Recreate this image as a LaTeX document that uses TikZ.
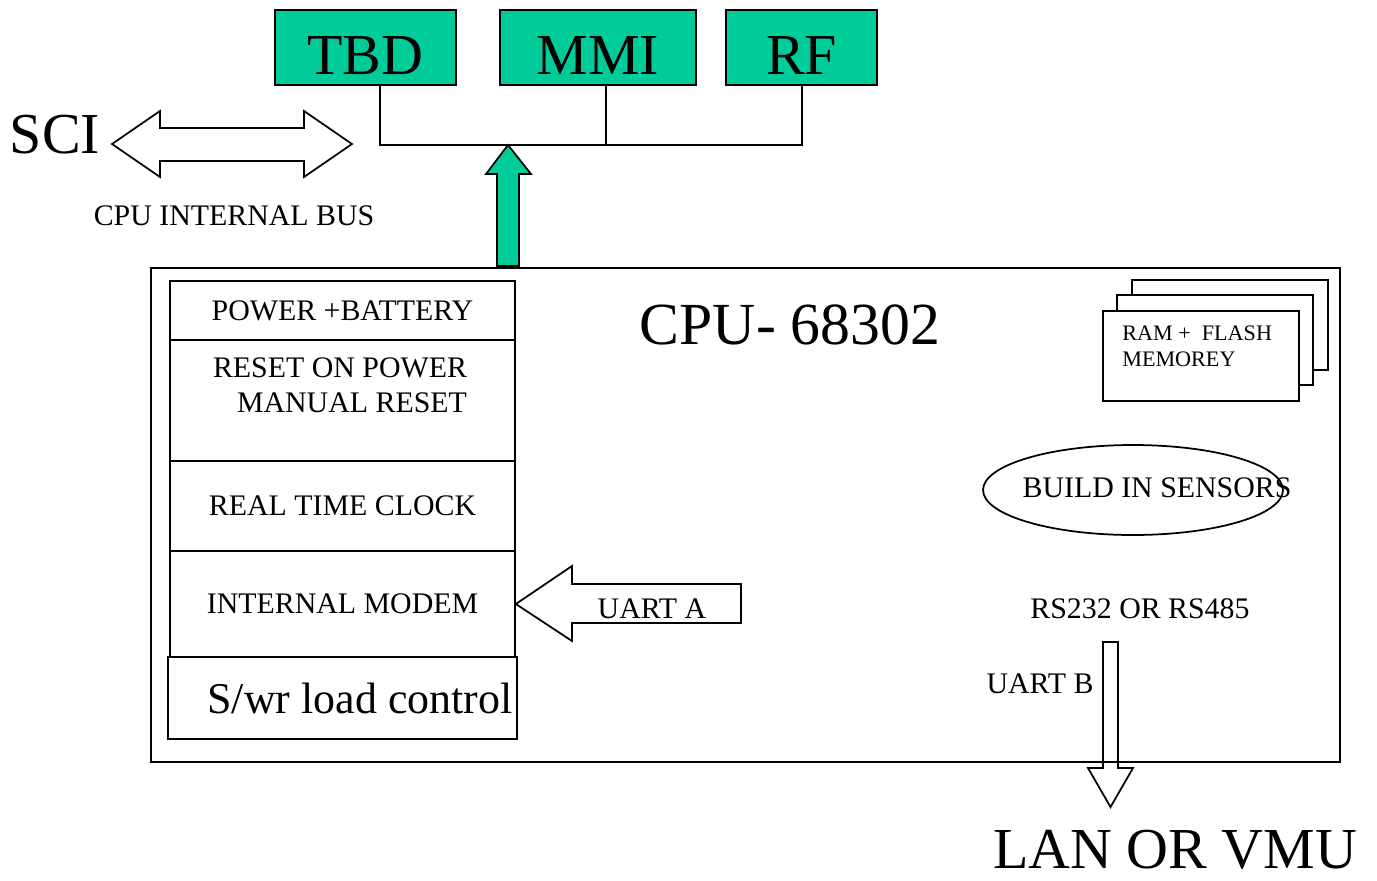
\documentclass[tikz,border=0pt]{standalone}
\usepackage{fontspec}
\setmainfont{Liberation Serif}
\usetikzlibrary{shapes.geometric}
\definecolor{boxgreen}{RGB}{0,204,153}
\begin{document}
\begin{tikzpicture}[x=0.02cm, y=-0.02cm,
  unit/.style={draw, fill=boxgreen, line width=1pt, minimum height=1.5cm, inner sep=0pt, text height=31pt, text depth=0pt, font=\fontsize{33}{36}\selectfont},
  row/.style={draw, line width=1pt, minimum width=6.9cm, inner sep=0pt, font=\fontsize{17}{20}\selectfont},
  small/.style={inner sep=0pt, font=\fontsize{17}{20}\selectfont},
  big/.style={inner sep=0pt, font=\fontsize{33}{36}\selectfont},
  blockarrow/.style={draw, line width=1pt, line join=miter}
]
\useasboundingbox (0,0) rectangle (1377,880);

% top units and bus
\node[unit, minimum width=3.62cm] (tbd) at (365.5,47.5) {TBD};
\node[unit, minimum width=3.92cm] (mmi) at (598,47.5) {MMI};
\node[unit, minimum width=3.02cm] (rf) at (801.5,47.5) {RF};
\coordinate (busl) at (380,145);
\coordinate (busm) at (606,145);
\coordinate (busr) at (802,145);
\draw[line width=1pt] (tbd.south -| busl) -- (busl) -- (busr) -- (rf.south -| busr);
\draw[line width=1pt] (mmi.south -| busm) -- (busm);
\draw[blockarrow, fill=boxgreen] (497,266) -- (497,174) -- (486,174) -- (508,145) -- (531,174) -- (519,174) -- (519,266) -- cycle;

% SCI
\node[big] (sci) at (55,135) {SCI};
\draw[blockarrow] (112,144) -- (160,111) -- (160,128) -- (304,128) -- (304,111) -- (352,144) -- (304,177) -- (304,161) -- (160,161) -- (160,177) -- cycle;
\node[small] (busname) at (234,216) {CPU INTERNAL BUS};

% CPU block
\node[draw, line width=1pt, minimum width=23.78cm, minimum height=9.88cm] (cpu) at (745.5,515) {};
\node[inner sep=0pt, font=\fontsize{34}{38}\selectfont] (cputitle) at (790,325) {CPU- 68302};

\node[row, minimum height=1.18cm] (power) at (342.5,310.5) {POWER +BATTERY};
\node[row, minimum height=2.42cm] (reset) at (342.5,400.5) {};
\node[small, align=left] (resettxt) at (340,385) {RESET ON POWER\\\hspace{0.48cm}MANUAL RESET};
\node[row, minimum height=1.8cm] (clock) at (342.5,506) {REAL TIME CLOCK};
\node[row, minimum height=2.12cm] (modem) at (342.5,604) {INTERNAL MODEM};
\node[draw, line width=1pt, minimum width=6.98cm, minimum height=1.64cm] (swr) at (342.5,698) {};
\node[inner sep=0pt, font=\fontsize{25}{30}\selectfont] (swrtxt) at (360,698) {S/wr load control};

% memory stack
\draw[line width=1pt, fill=white] (1132,280) rectangle (1328,370);
\draw[line width=1pt, fill=white] (1117,295) rectangle (1313,385);
\node[draw, line width=1pt, fill=white, minimum width=3.92cm, minimum height=1.8cm] (ram) at (1201,356) {};
\node[align=left, anchor=west, inner sep=0pt, font=\fontsize{12.6}{15}\selectfont] (ramtxt) at (1122,346) {RAM +~ FLASH\\MEMOREY};

\node[draw, ellipse, line width=1pt, minimum width=6cm, minimum height=1.8cm, inner sep=0pt] (sensors) at (1133,490) {};
\node[small] (sensortxt) at (1157,488) {BUILD IN SENSORS};
\node[small] (rs) at (1140,609) {RS232 OR RS485};

% UART arrows
\draw[blockarrow] (modem.east) -- (572,566) -- (572,584) -- (741,584) -- (741,623) -- (572,623) -- (572,641) -- cycle;
\node[small] (uarta) at (652,609) {UART A};
\draw[blockarrow] (1103,642) -- (1118,642) -- (1118,768) -- (1133,768) -- (1110.5,807) -- (1088,768) -- (1103,768) -- cycle;
\node[small] (uartb) at (1040,684) {UART B};
\node[big] (lan) at (1175,850) {LAN OR VMU};
\end{tikzpicture}
\end{document}
